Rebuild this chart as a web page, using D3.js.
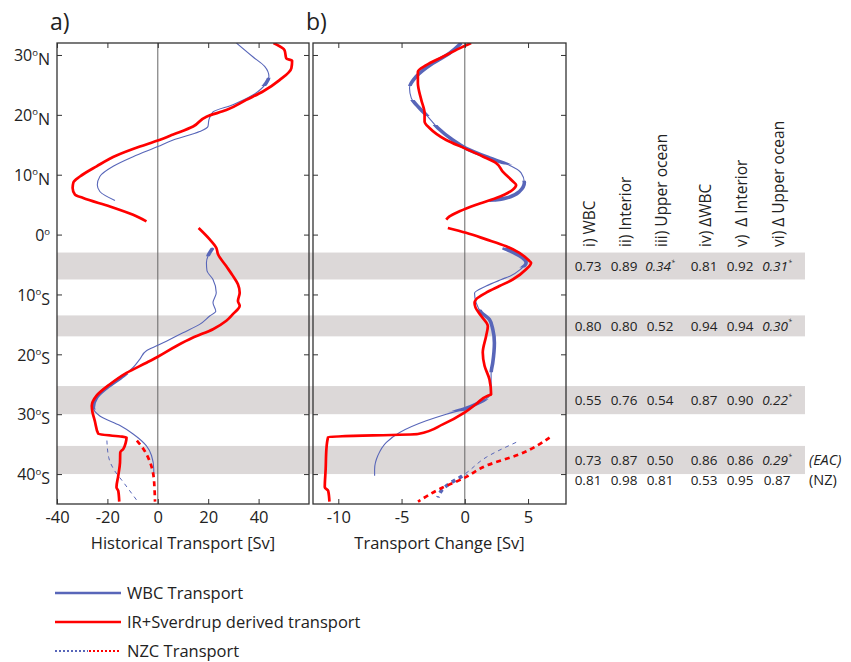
<!DOCTYPE html>
<html><head><meta charset="utf-8">
<script src="https://cdn.jsdelivr.net/npm/d3@7"></script>
<style>body{margin:0;background:#fff} text{font-family:"Open Sans",sans-serif;fill:#222}</style>
</head><body><svg id="c" width="851" height="662"></svg>
<script>
// ---------- data ----------
const latTicks=[30,20,10,0,-10,-20,-30,-40];
const histTicks=[-40,-20,0,20,40];
const chgTicks=[-10,-5,0,5];
const bands=[[-3,-7.5],[-13.5,-17],[-25.3,-30],[-35.3,-40]];
// [latitude, Sv]
const histIrNorth=[[32,45.9],[30.8,50.3],[29.4,51],[29.05,53.3],[27.8,53],[25.8,48.3],[23.9,41.7],[22.5,35.1],[20.8,27.2],[19.7,19.3],[18.05,14],[16.7,6.1],[15.7,0],[14.7,-7.1],[13.2,-16.4],[11.4,-24.3],[9.7,-30.9],[8.7,-33.5],[7.8,-33.8],[6.7,-32.9],[6.1,-29.6],[4.7,-19],[3.3,-9.8],[2.2,-4.5]];
const histIrSouth=[[1.1,16.2],[-0.8,20.6],[-2.2,23.2],[-3.3,23.9],[-5.3,27.2],[-6.9,29.8],[-8.3,31.8],[-9.7,32.5],[-11.1,31.8],[-11.9,32.5],[-13.3,29.8],[-14.4,27.2],[-15.8,21.9],[-17.2,14],[-18.6,7.4],[-20.4,0],[-21.4,-4.5],[-23.1,-12.4],[-25,-19],[-26.9,-24.3],[-28.6,-26.2],[-29.7,-25.9],[-31.1,-25],[-33.3,-23.6],[-33.9,-12.4],[-34.7,-12.7],[-35.8,-13.7],[-36.4,-14.9],[-38.1,-15],[-40.3,-15.7],[-42.2,-16.4],[-42.8,-15.7],[-44.6,-15.3]];
const histWbcNorth=[[32,31.2],[29.7,37.7],[28.1,42.4],[26.4,44.1],[25.3,43],[23.3,37.7],[21.7,29.8],[20.5,21.9],[19.2,20.3],[18.05,19.9],[17.2,16.6],[15.8,6.1],[14.7,0],[13,-9.8],[11.4,-17.7],[9.7,-23],[8.3,-24],[7.2,-23],[5.7,-17]];
const histWbcSouth=[[-2.2,21.9],[-3.5,20],[-4.7,19.3],[-6,19.5],[-7.5,21.9],[-9.7,23.2],[-11.4,21.9],[-12.8,23],[-13.6,20.6],[-15,16.6],[-16.4,10],[-17.8,3.4],[-18.5,0],[-19.4,-4.5],[-20.8,-7.1],[-22.2,-9.8],[-23.6,-13.7],[-25.6,-20.3],[-27.2,-24.3],[-28.9,-25.6],[-30.3,-23],[-31.9,-15],[-33.3,-9.8],[-35.3,-4.5],[-36.9,-2.5],[-39.2,-1.6],[-40.3,-1.6]];
const histNzcIr=[[-34.4,-8.3],[-35.8,-5.7],[-38.1,-3],[-40.3,-1.7],[-42.5,-1.3],[-44.6,-1.1]];
const histNzcWbc=[[-34.4,-20.2],[-37.2,-19.5],[-39.2,-17.5],[-41.4,-13.6],[-44.4,-8.3]];
const histWbcThick=[[26.2,24.8],[-2.2,-3.6],[-23.3,-29.2]];

const chgIrNorth=[[32,0.5],[31.1,-0.42],[29.7,-1.74],[28.3,-3.05],[27.2,-3.71],[25.3,-3.71],[22.5,-3.44],[20.3,-3.18],[18.9,-3.18],[17.8,-2.79],[15.8,-1.47],[14.4,0],[13.05,1.42],[11.95,2.48],[10.5,3.0],[8.9,3.79],[8.3,4.06],[7.5,3.79],[6.1,2.48],[5,0.9],[3.9,-0.42],[3.05,-1.21],[2.5,-1.47]];
const chgIrSouth=[[1.1,-1.34],[0.3,0.1],[-0.8,1.69],[-1.95,3.27],[-3.05,4.32],[-4.4,5.1],[-4.7,5.24],[-5.8,4.85],[-7.5,3.79],[-8.6,2.74],[-9.7,1.69],[-10.8,0.9],[-11.4,0.77],[-12.2,0.85],[-13.6,1.3],[-15.3,1.82],[-16.9,1.69],[-19.7,1.42],[-21.9,1.56],[-24.2,1.95],[-26.7,2.08],[-26.9,1.82],[-28.3,0.9],[-29.7,0],[-31.7,-1.74],[-33.3,-3.71],[-33.8,-10.8],[-35.8,-10.94],[-39.2,-11],[-42.2,-11.07],[-42.8,-10.8],[-44.6,-10.7]];
const chgWbcNorth=[[32,-0.28],[30.3,-1.21],[28.6,-2.53],[26.4,-3.84],[24.5,-4.37],[22.8,-4.23],[21.7,-3.84],[19.7,-2.92],[17.8,-2.13],[15.8,-0.95],[14.4,0.1],[12.8,1.95],[11.7,3.39],[10.3,4.45],[8.7,4.71],[7.2,4.32],[6.1,3.27],[5.55,1.95]];
const chgWbcSouth=[[-2.2,3.0],[-4.7,4.85],[-5.8,4.4],[-6.9,3.6],[-7.5,2.9],[-8.6,1.69],[-9.8,0.77],[-11.4,0.9],[-13,1.3],[-14.2,1.95],[-15.8,2.21],[-18.05,2.34],[-21.4,2.21],[-23.1,2.08],[-25.8,2.08],[-26.9,1.95],[-28.05,1.16],[-29.2,-0.16],[-30,-1.47],[-31.1,-3.05],[-33.05,-5.15],[-34.7,-6.2],[-36.9,-6.87],[-39.2,-7.13],[-40.3,-7.13]];
const chgNzcIr=[[-33.9,6.7],[-36.7,4.32],[-38.6,1.69],[-40.6,0],[-42.5,-1.99],[-44.6,-3.7]];
const chgNzcWbc=[[-34.7,4.06],[-37.2,1.69],[-40,0],[-40.6,-0.42],[-41.4,-1.07],[-42.5,-1.74],[-43.9,-2.13]];
const chgWbcThick=[[32,24.8],[22.5,19.8],[18.3,11.7],[9,5.5],[-2.2,-5.5],[-12.5,-23],[-27.5,-29.5]];
const chgNzcWbcThick=[[-40,-44.5]];

const tableHeaders=["i) WBC","ii) Interior","iii) Upper ocean","iv) \u0394WBC","v)  \u0394 Interior","vi) \u0394 Upper ocean"];
const tableRows=[
  ["0.73","0.89","0.34*","0.81","0.92","0.31*"],
  ["0.80","0.80","0.52","0.94","0.94","0.30*"],
  ["0.55","0.76","0.54","0.87","0.90","0.22*"],
  ["0.73","0.87","0.50","0.86","0.86","0.29*"],
  ["0.81","0.98","0.81","0.53","0.95","0.87"]];
const rowLats=[-5.25,-15.25,-27.65,-37.65,-41];
const rowNotes=["","","","(EAC)","(NZ)"];
const legendItems=["WBC Transport","IR+Sverdrup derived transport","NZC Transport"];

// ---------- layout ----------
const BLUE="#5866b9", RED="#ff0000", BAND="#dcd8d8", INK="#333";
const yTop=43, yBot=504;
const svg=d3.select("#c");
const y=d3.scaleLinear().domain([32,-45]).range([yTop,yBot]);
const xA=d3.scaleLinear().domain([-40,60]).range([57,309]);
const xB=d3.scaleLinear().domain([-12,8]).range([313,566]);

svg.append("rect").attr("width",851).attr("height",662).attr("fill","#fff");
svg.append("g").selectAll("rect").data(bands).join("rect")
  .attr("x",57).attr("width",805-57)
  .attr("y",d=>y(d[0])).attr("height",d=>y(d[1])-y(d[0])).attr("fill",BAND);

function panel(id,x,ticks,series,label,title){
  const [x0,x1]=x.range();
  const defs=svg.append("defs");
  defs.append("clipPath").attr("id","clip"+id).append("rect")
    .attr("x",x0).attr("y",yTop).attr("width",x1-x0).attr("height",yBot-yTop);
  const g=svg.append("g");
  g.append("line").attr("x1",x(0)).attr("x2",x(0)).attr("y1",yTop).attr("y2",yBot)
    .attr("stroke","#666").attr("stroke-width",1);
  const line=d3.line().x(d=>x(d[1])).y(d=>y(d[0])).curve(d3.curveMonotoneY);
  const cg=g.append("g").attr("clip-path",`url(#clip${id})`);
  series.forEach((s,i)=>{
    let clip=null;
    if(s.thick){
      const cid=`th${id}_${i}`;
      const cp=defs.append("clipPath").attr("id",cid);
      s.thick.forEach(r=>cp.append("rect").attr("x",x0).attr("width",x1-x0)
        .attr("y",y(r[0])).attr("height",y(r[1])-y(r[0])));
      clip=cid;
    }
    cg.append("path").datum(s.data).attr("d",line).attr("fill","none")
      .attr("stroke",s.color).attr("stroke-width",s.w)
      .attr("stroke-dasharray",s.dash||null).attr("stroke-linejoin","round");
    if(clip){
      cg.append("g").attr("clip-path",`url(#${clip})`).append("path").datum(s.data)
        .attr("d",line).attr("fill","none").attr("stroke",s.color).attr("stroke-width",s.tw||3.6)
        .attr("stroke-dasharray",s.dash||null);
    }
  });
  const ax=(a)=>a.tickSizeOuter(0);
  const gb=g.append("g").attr("transform",`translate(0,${yBot})`)
    .call(ax(d3.axisBottom(x).tickValues(ticks).tickSize(-5).tickPadding(7).tickFormat(d=>String(d))));
  const gt=g.append("g").attr("transform",`translate(0,${yTop})`)
    .call(ax(d3.axisTop(x).tickValues(ticks).tickSize(-5).tickFormat("")));
  const gl=g.append("g").attr("transform",`translate(${x0},0)`)
    .call(ax(d3.axisLeft(y).tickValues(latTicks).tickSize(-5).tickPadding(7)));
  const gr=g.append("g").attr("transform",`translate(${x1},0)`)
    .call(ax(d3.axisRight(y).tickValues(latTicks).tickSize(-5).tickFormat("")));
  [gb,gt,gl,gr].forEach(a=>{a.select(".domain").remove();a.selectAll("line").attr("stroke",INK).attr("stroke-width",1);});
  gb.selectAll("text").attr("font-size",16.5).attr("fill","#222").attr("font-family","Open Sans");
  if(id==="a"){
    gl.selectAll("text").attr("font-size",16).attr("fill","#222").attr("font-family","Open Sans").attr("dy","0.36em")
      .text(null).each(function(v){
        const t=d3.select(this);
        t.append("tspan").text(Math.abs(v));
        t.append("tspan").attr("font-size",9.5).attr("dy","-0.6em").text("o");
        t.append("tspan").attr("dy","0.6em").text(v>0?"N":v<0?"S":"");
      });
  } else gl.selectAll("text").remove();
  g.append("rect").attr("x",x0).attr("y",yTop).attr("width",x1-x0).attr("height",yBot-yTop)
    .attr("fill","none").attr("stroke",INK).attr("stroke-width",1.3);
  svg.append("text").attr("x",x0-7).attr("y",30).attr("font-size",23).text(label);
  svg.append("text").attr("x",(x0+x1)/2).attr("y",549).attr("text-anchor","middle")
    .attr("font-size",16.5).text(title);
}

panel("a",xA,histTicks,[
  {data:histWbcNorth,color:BLUE,w:1.1,thick:histWbcThick},
  {data:histWbcSouth,color:BLUE,w:1.1,thick:histWbcThick},
  {data:histNzcWbc,color:BLUE,w:1,dash:"4,4"},
  {data:histIrNorth,color:RED,w:2.7},
  {data:histIrSouth,color:RED,w:2.7},
  {data:histNzcIr,color:RED,w:2.7,dash:"5,4"}
],"a)","Historical Transport [Sv]");

panel("b",xB,chgTicks,[
  {data:chgWbcNorth,color:BLUE,w:1.1,thick:chgWbcThick},
  {data:chgWbcSouth,color:BLUE,w:1.1,thick:chgWbcThick},
  {data:chgNzcWbc,color:BLUE,w:1,dash:"4,4",thick:chgNzcWbcThick,tw:3.6},
  {data:chgIrNorth,color:RED,w:2.7},
  {data:chgIrSouth,color:RED,w:2.7},
  {data:chgNzcIr,color:RED,w:2.7,dash:"5,4"}
],"b)","Transport Change [Sv]");

// ---------- table ----------
const colX=[588,624,660,704,740,777];
const tb=svg.append("g");
tb.selectAll("text.h").data(tableHeaders).join("text").attr("class","h")
  .attr("transform",(d,i)=>`translate(${colX[i]+7},247) rotate(-90)`)
  .attr("font-size",15.5).attr("xml:space","preserve").text(d=>d);
tableRows.forEach((row,r)=>{
  row.forEach((v,c)=>{
    const star=v.endsWith("*");
    const t=tb.append("text").attr("x",colX[c]).attr("y",y(rowLats[r])).attr("dy","0.36em")
      .attr("text-anchor","middle").attr("font-size",13.5).attr("font-style",star?"italic":null);
    t.append("tspan").text(star?v.slice(0,-1):v);
    if(star){ t.append("tspan").attr("font-size",7).attr("dy","-0.9em").text("*"); }
  });
  if(rowNotes[r]) tb.append("text").attr("x",809).attr("y",y(rowLats[r])).attr("dy","0.36em")
    .attr("font-size",14.5).attr("font-style",r===3?"italic":null).text(rowNotes[r]);
});

// ---------- legend ----------
const lg=svg.append("g");
const ly=[593,622,651];
lg.append("line").attr("x1",55).attr("x2",121).attr("y1",ly[0]).attr("y2",ly[0]).attr("stroke",BLUE).attr("stroke-width",2.5);
lg.append("line").attr("x1",55).attr("x2",121).attr("y1",ly[1]).attr("y2",ly[1]).attr("stroke",RED).attr("stroke-width",2.5);
lg.append("line").attr("x1",55).attr("x2",88).attr("y1",ly[2]).attr("y2",ly[2]).attr("stroke",BLUE).attr("stroke-width",2).attr("stroke-dasharray","2,2");
lg.append("line").attr("x1",89).attr("x2",121).attr("y1",ly[2]).attr("y2",ly[2]).attr("stroke",RED).attr("stroke-width",2).attr("stroke-dasharray","2,2");
lg.selectAll("text").data(legendItems).join("text").attr("x",127).attr("y",(d,i)=>ly[i]).attr("dy","0.36em")
  .attr("font-size",16.5).text(d=>d);
</script></body></html>
